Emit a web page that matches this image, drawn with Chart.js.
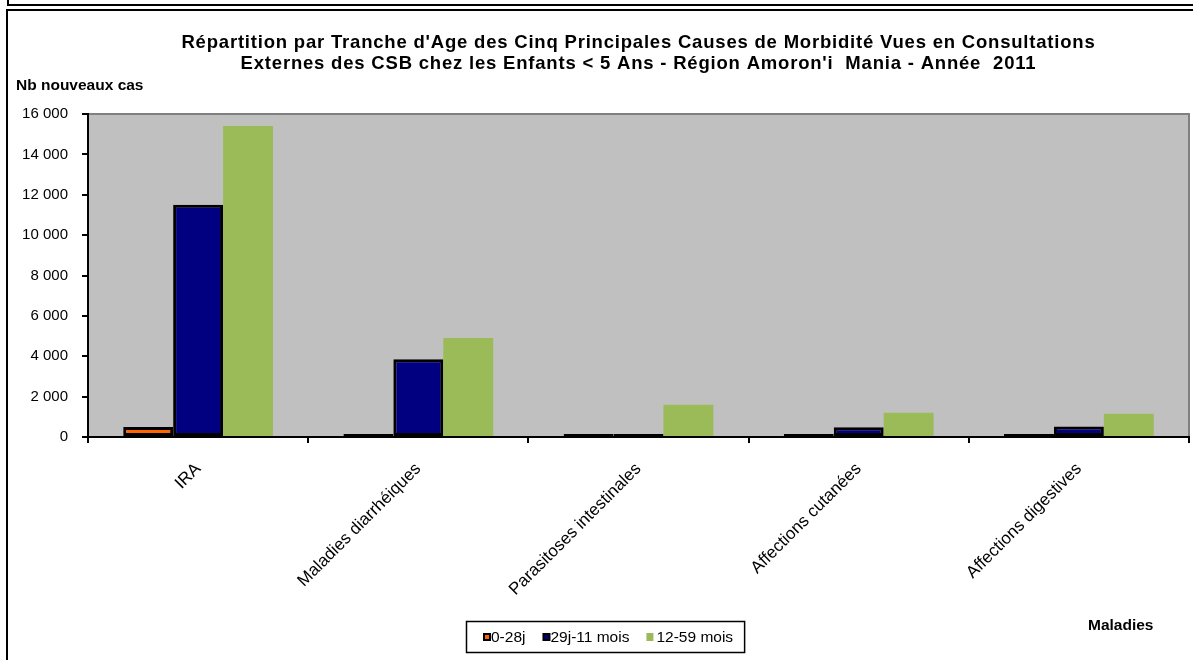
<!DOCTYPE html>
<html>
<head>
<meta charset="utf-8">
<script src="https://cdn.jsdelivr.net/npm/chart.js@4"></script>
<style>
  body { margin: 0; background: #fff; }
  #wrap { position: relative; width: 1193px; height: 660px; }
</style>
</head>
<body>
<div id="wrap"><canvas id="morbidite"></canvas></div>
<script>
/*
Répartition par tranche d'âge des cinq principales causes de morbidité
CSB - enfants < 5 ans - Région Amoron'i Mania - 2011
*/

const maladies = [
  'IRA',
  'Maladies diarrhéiques',
  'Parasitoses intestinales',
  'Affections cutanées',
  'Affections digestives',
];

const cas0a28j = [500, 60, 0, 70, 110];
const cas29ja11mois = [11500, 3850, 150, 480, 520];
const cas12a59mois = [15400, 4900, 1600, 1200, 1150];

const yTicks = [0, 2000, 4000, 6000, 8000, 10000, 12000, 14000, 16000];

const titleLines = [
  'Répartition par Tranche d\'Age des Cinq Principales Causes de Morbidité Vues en Consultations',
  'Externes des CSB chez les Enfants < 5 Ans - Région Amoron\'i  Mania - Année  2011',
];

const FONT = '"Liberation Sans", Arial, sans-serif';

/* frame, gray plot background, titles and boxed legend, Excel style */
const excelLook = {
  id: 'excelLook',
  beforeDraw(chart) {
    const { ctx, chartArea: a } = chart;
    ctx.save();
    ctx.fillStyle = '#fff';
    ctx.fillRect(0, 0, chart.width, chart.height);
    ctx.strokeStyle = '#000';
    ctx.lineWidth = 2;
    ctx.beginPath();
    ctx.moveTo(8, 0); ctx.lineTo(8, 5); ctx.lineTo(chart.width, 5);
    ctx.moveTo(7, chart.height); ctx.lineTo(7, 10); ctx.lineTo(chart.width, 10);
    ctx.stroke();
    ctx.fillStyle = '#C0C0C0';
    ctx.fillRect(a.left, a.top, a.right - a.left, a.bottom - a.top);
    ctx.strokeStyle = '#808080';
    ctx.beginPath();
    ctx.moveTo(a.left, a.top); ctx.lineTo(a.right, a.top); ctx.lineTo(a.right, a.bottom);
    ctx.stroke();
    ctx.restore();
  },
  afterDraw(chart) {
    const { ctx, chartArea: a } = chart;
    ctx.save();
    ctx.fillStyle = '#000';
    ctx.textBaseline = 'middle';
    ctx.font = 'bold 18.5px ' + FONT;
    ctx.textAlign = 'center';
    if ('letterSpacing' in ctx) ctx.letterSpacing = '0.8px';
    const cx = (a.left + a.right) / 2;
    ctx.fillText(titleLines[0], cx, 43);
    ctx.fillText(titleLines[1], cx, 64);
    if ('letterSpacing' in ctx) ctx.letterSpacing = '0px';
    ctx.font = 'bold 15.5px ' + FONT;
    ctx.textAlign = 'left';
    ctx.fillText('Nb nouveaux cas', 16, 86);
    ctx.fillText('Maladies', 1088, 626);

    // legend
    ctx.font = '15.5px ' + FONT;
    let x = 483;
    const ly = 637;
    chart.data.datasets.forEach((ds, i) => {
      if (ds.borderWidth) {
        ctx.fillStyle = '#000';
        ctx.fillRect(x, ly - 4, 8, 8);
        ctx.fillStyle = ds.backgroundColor;
        ctx.fillRect(x + 2, ly - 2, 4, 4);
      } else {
        ctx.fillStyle = ds.backgroundColor;
        ctx.fillRect(x, ly - 4, 7, 8);
      }
      x += i === 2 ? 10 : 8;
      ctx.fillStyle = '#000';
      ctx.fillText(ds.label, x, ly + 1);
      x += ctx.measureText(ds.label).width + 17;
    });
    ctx.strokeStyle = '#000';
    ctx.lineWidth = 1.5;
    ctx.strokeRect(466.5, 621.5, x - 17 + 11 - 466, 31);
    ctx.restore();
  },
};

const dataMorbidite = {
  labels: maladies,
  datasets: [
    {
      label: '0-28j',
      data: cas0a28j,
      backgroundColor: '#FF6600',
      borderColor: '#000',
      borderWidth: 3,
      borderSkipped: false,
      minBarLength: 3,
    },
    {
      label: '29j-11 mois',
      data: cas29ja11mois,
      backgroundColor: '#000080',
      borderColor: '#000',
      borderWidth: 3,
      borderSkipped: false,
      minBarLength: 3,
    },
    {
      label: '12-59 mois',
      data: cas12a59mois,
      backgroundColor: '#9BBB59',
      borderWidth: 0,
    },
  ],
};

new Chart(document.getElementById('morbidite'), {
  type: 'bar',
  data: dataMorbidite,
  plugins: [excelLook],
  options: {
    responsive: true,
    maintainAspectRatio: false,
    animation: false,
    datasets: { bar: { categoryPercentage: 0.68, barPercentage: 1 } },
    layout: { padding: { top: 114, right: 4, bottom: 0, left: 0 } },
    plugins: {
      legend: { display: false },
      title: { display: false },
      tooltip: { enabled: false },
    },
    scales: {
      x: {
        afterFit: (s) => { s.height = 223; },
        grid: {
          offset: true,
          drawOnChartArea: false,
          color: '#000',
          lineWidth: 2,
          tickLength: 6,
        },
        border: { color: '#000', width: 2 },
        ticks: {
          autoSkip: false,
          minRotation: 45,
          maxRotation: 45,
          padding: 16,
          color: '#000',
          font: { family: FONT, size: 17 },
        },
      },
      y: {
        min: 0,
        max: 16000,
        afterFit: (s) => { s.width = 88; },
        afterBuildTicks: (s) => { s.ticks = yTicks.map((v) => ({ value: v })); },
        grid: {
          drawOnChartArea: false,
          color: '#000',
          lineWidth: 2,
          tickLength: 6,
        },
        border: { color: '#000', width: 2 },
        ticks: {
          padding: 14,
          color: '#000',
          font: { family: FONT, size: 15 },
          callback: (v) => String(v).replace(/\B(?=(\d{3})+(?!\d))/g, ' '),
        },
      },
    },
  },
});
</script>
</body>
</html>
